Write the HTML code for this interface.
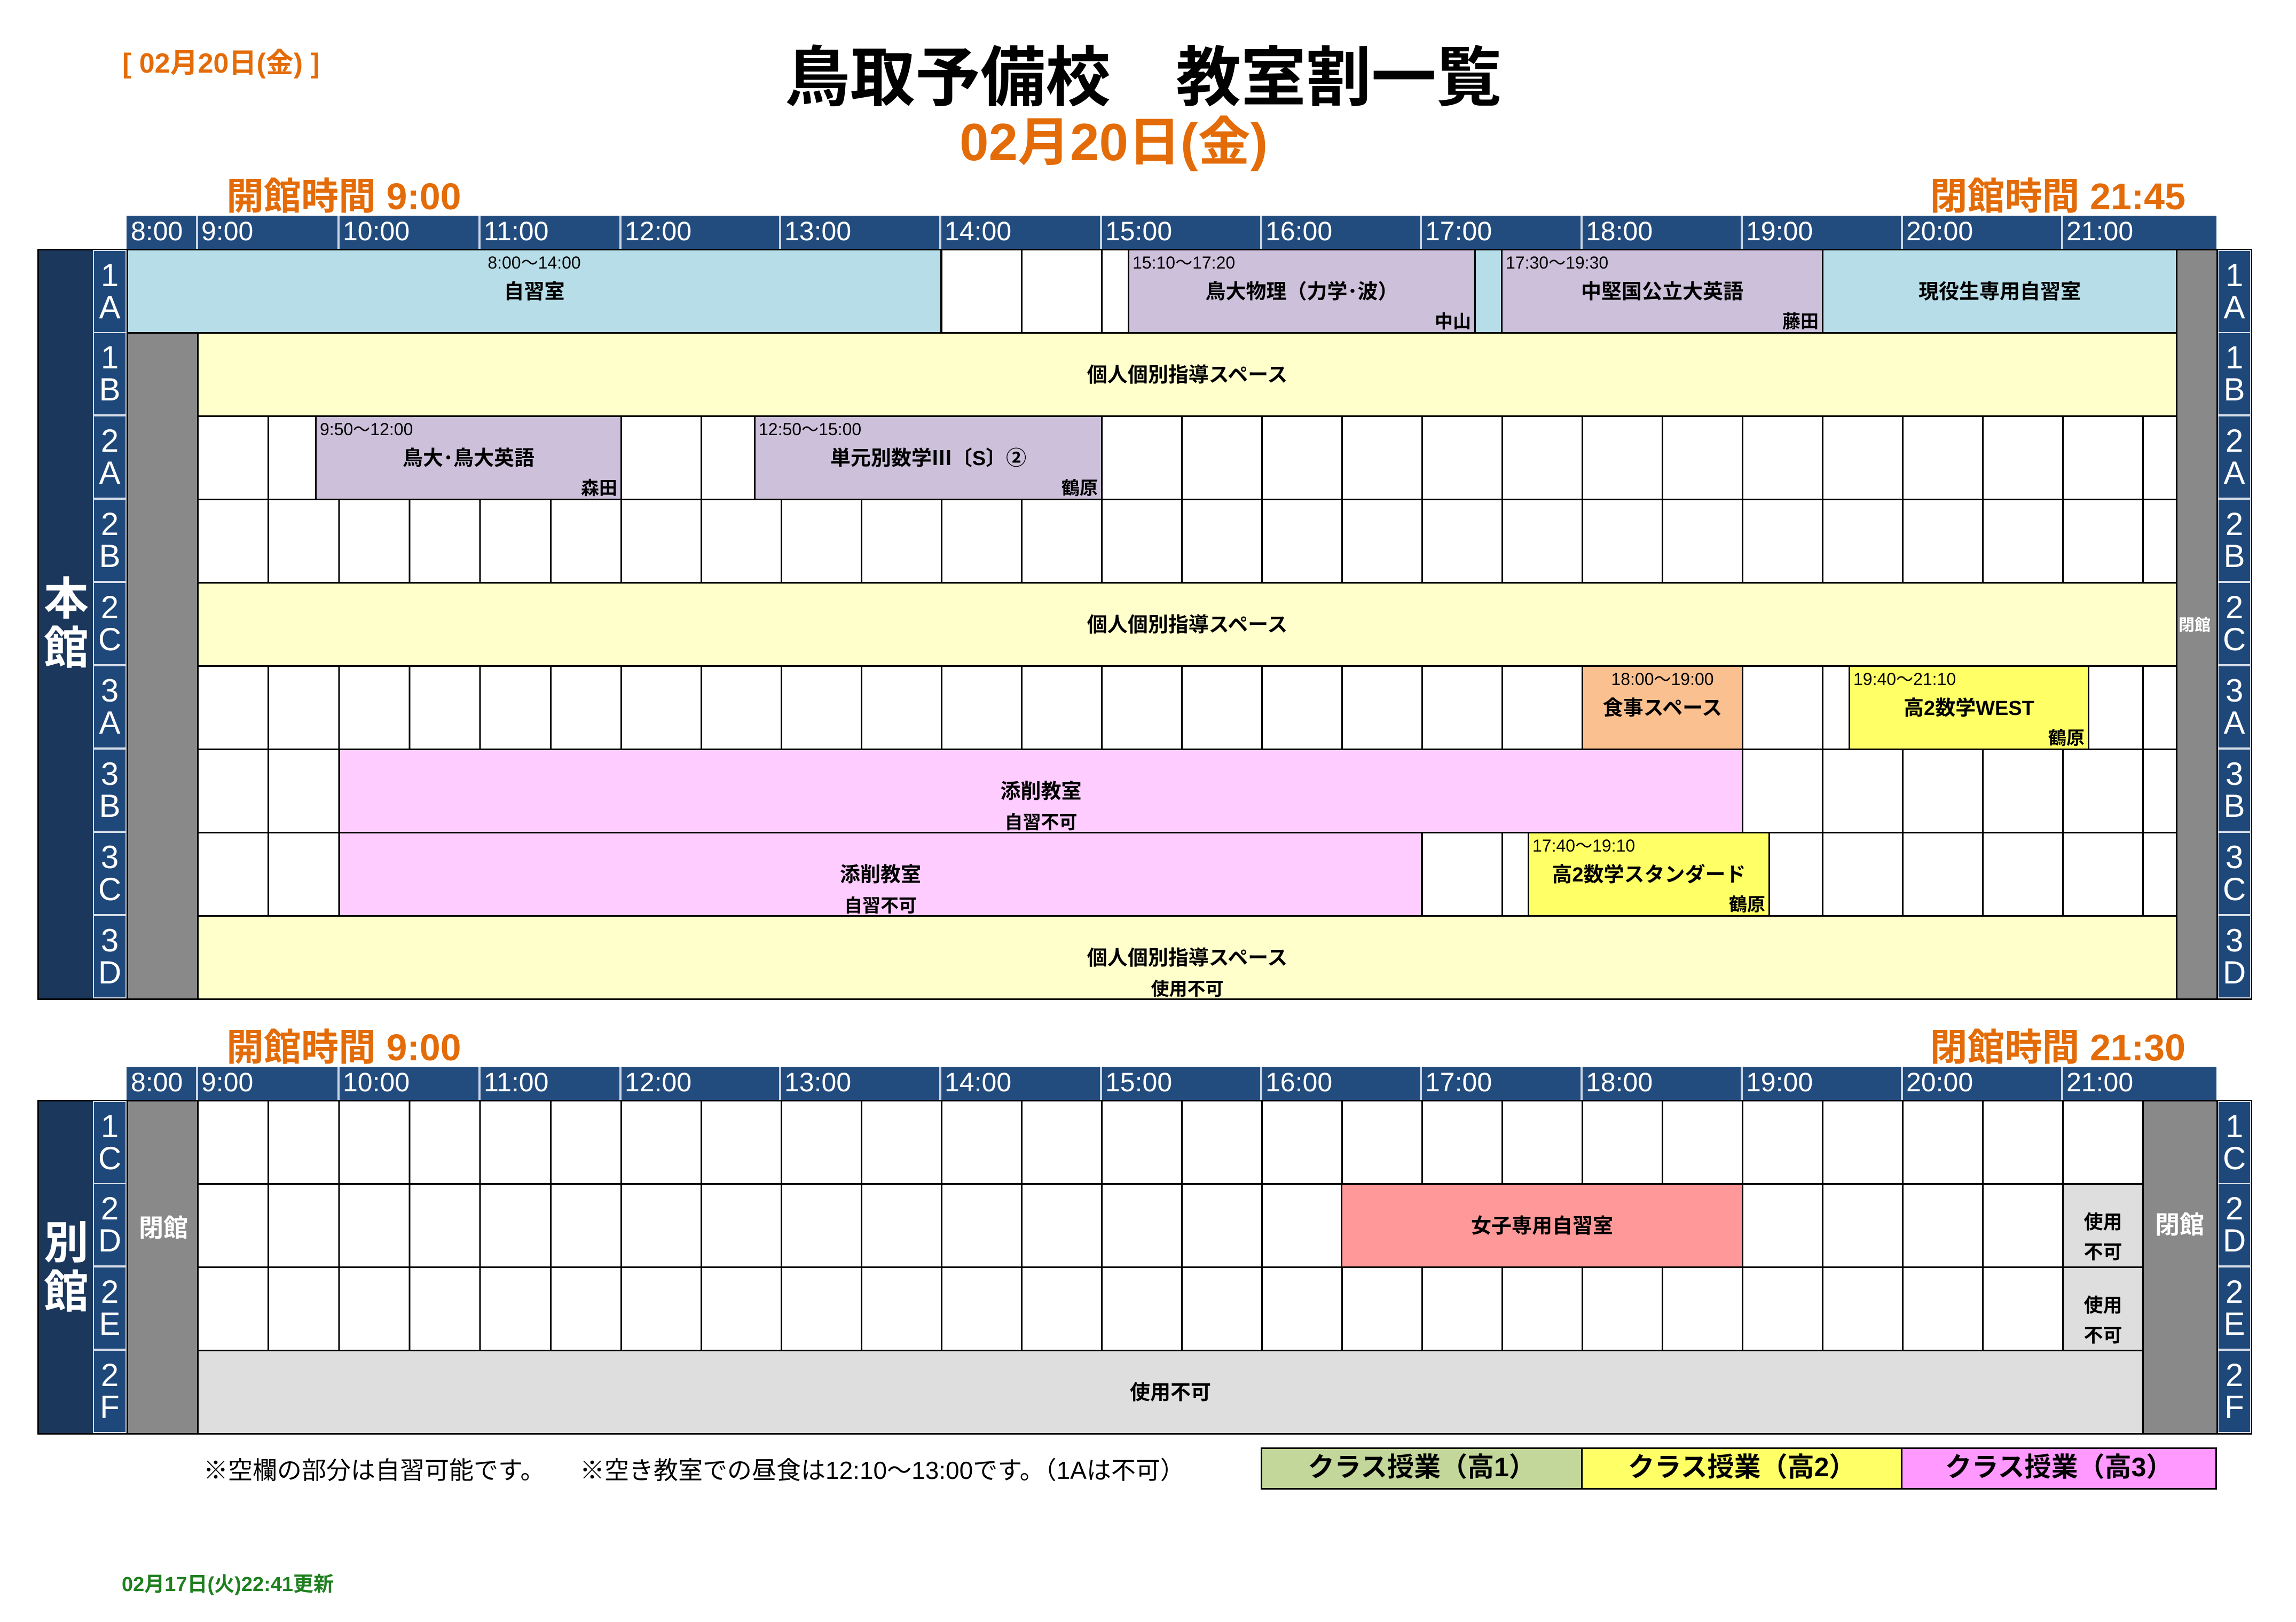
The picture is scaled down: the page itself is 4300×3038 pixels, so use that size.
<!DOCTYPE html>
<html><head><meta charset="utf-8"><style>
*{margin:0;padding:0}
body{width:4300px;height:3038px;background:#fff;position:relative;overflow:hidden;font-family:"Liberation Sans","Noto Sans CJK JP",sans-serif;color:#000}
div,span{position:absolute;box-sizing:border-box}
.or{color:#e36c09;font-weight:bold;white-space:nowrap}
.hdr{background:#234c7e;height:62px}
.hl{color:#fff;font-size:50px;white-space:nowrap}
.hs{width:4px;background:#c9d5e6;top:0;height:62px}
.navy{background:#1b375c;border:3px solid #000}
.big{color:#fff;font-weight:bold;font-size:84px;line-height:92px;width:104px;text-align:center}
.lab{background:#1f487a;border:2px solid #d6dde8;width:63px;color:#fff;font-size:60px;line-height:60px;text-align:center;display:flex;align-items:center;justify-content:center}
.gray{background:#898989;border:3px solid #000}
.gA{background-color:#fff;background-image:repeating-linear-gradient(90deg,#000 0 3px,transparent 3px 132.17px),repeating-linear-gradient(180deg,#000 0 3px,transparent 3px 156px)}
.gB{background-color:#fff;background-image:repeating-linear-gradient(90deg,#000 0 3px,transparent 3px 150px),repeating-linear-gradient(180deg,#000 0 3px,transparent 3px 156px)}
.b{border:3px solid #000}
.tm{top:-2px;left:6px;font-size:32px;white-space:nowrap}
.tmc{top:-2px;left:0;right:0;text-align:center;font-size:32px;white-space:nowrap}
.ti{left:0;right:0;top:50%;transform:translateY(-56%);text-align:center;font-weight:bold;font-size:38px;white-space:nowrap}
.te{right:6px;bottom:-2px;font-weight:bold;font-size:34px}
.sub{left:0;right:0;bottom:-4px;text-align:center;font-weight:bold;font-size:34px}
.cl{color:#fff;font-weight:bold;font-size:40px;white-space:nowrap}
</style></head><body>

<div class="or" style="left:229px;top:76px;font-size:52px">[ 02月20日(金) ]</div>
<div style="left:1470px;top:76px;font-size:122px;font-weight:bold;white-space:nowrap;line-height:140px">鳥取予備校　教室割一覧</div>
<div class="or" style="left:1797px;top:206px;font-size:98px;font-weight:bold;line-height:120px">02月20日(金)</div>

<!-- ===== 本館 ===== -->
<div class="or" style="left:424px;top:312px;font-size:70px">開館時間 9:00</div>
<div class="or" style="right:207px;top:312px;font-size:70px">閉館時間 21:45</div>

<div class="hdr" style="left:237px;top:404px;width:3914px"></div>
<div class="hs" style="left:367px;top:404px"></div>
<div class="hs" style="left:632px;top:404px"></div>
<div class="hs" style="left:896px;top:404px"></div>
<div class="hs" style="left:1160px;top:404px"></div>
<div class="hs" style="left:1459px;top:404px"></div>
<div class="hs" style="left:1759px;top:404px"></div>
<div class="hs" style="left:2060px;top:404px"></div>
<div class="hs" style="left:2360px;top:404px"></div>
<div class="hs" style="left:2659px;top:404px"></div>
<div class="hs" style="left:2960px;top:404px"></div>
<div class="hs" style="left:3260px;top:404px"></div>
<div class="hs" style="left:3560px;top:404px"></div>
<div class="hs" style="left:3860px;top:404px"></div>
<div class="hl" style="left:245px;top:404px">8:00</div>
<div class="hl" style="left:377px;top:404px">9:00</div>
<div class="hl" style="left:642px;top:404px">10:00</div>
<div class="hl" style="left:906px;top:404px">11:00</div>
<div class="hl" style="left:1170px;top:404px">12:00</div>
<div class="hl" style="left:1469px;top:404px">13:00</div>
<div class="hl" style="left:1769px;top:404px">14:00</div>
<div class="hl" style="left:2070px;top:404px">15:00</div>
<div class="hl" style="left:2370px;top:404px">16:00</div>
<div class="hl" style="left:2669px;top:404px">17:00</div>
<div class="hl" style="left:2970px;top:404px">18:00</div>
<div class="hl" style="left:3270px;top:404px">19:00</div>
<div class="hl" style="left:3570px;top:404px">20:00</div>
<div class="hl" style="left:3870px;top:404px">21:00</div>

<div class="navy" style="left:70px;top:466px;width:107px;height:1407px"></div>
<div class="big" style="left:72px;top:1076px">本<br>館</div>
<div style="left:174px;top:466px;width:63px;height:1407px;background:#1f487a;border-top:3px solid #000;border-bottom:3px solid #000"></div>
<div class="lab" style="left:174px;top:468px;height:156px">1<br>A</div>
<div class="lab" style="left:174px;top:622px;height:156px">1<br>B</div>
<div class="lab" style="left:174px;top:778px;height:156px">2<br>A</div>
<div class="lab" style="left:174px;top:934px;height:156px">2<br>B</div>
<div class="lab" style="left:174px;top:1090px;height:156px">2<br>C</div>
<div class="lab" style="left:174px;top:1246px;height:156px">3<br>A</div>
<div class="lab" style="left:174px;top:1402px;height:156px">3<br>B</div>
<div class="lab" style="left:174px;top:1558px;height:156px">3<br>C</div>
<div class="lab" style="left:174px;top:1714px;height:156px">3<br>D</div>

<div style="left:4151px;top:466px;width:67px;height:1407px;background:#1f487a;border-top:3px solid #000;border-bottom:3px solid #000;border-right:3px solid #000"></div>
<div class="lab" style="left:4153px;top:468px;height:156px">1<br>A</div>
<div class="lab" style="left:4153px;top:622px;height:156px">1<br>B</div>
<div class="lab" style="left:4153px;top:778px;height:156px">2<br>A</div>
<div class="lab" style="left:4153px;top:934px;height:156px">2<br>B</div>
<div class="lab" style="left:4153px;top:1090px;height:156px">2<br>C</div>
<div class="lab" style="left:4153px;top:1246px;height:156px">3<br>A</div>
<div class="lab" style="left:4153px;top:1402px;height:156px">3<br>B</div>
<div class="lab" style="left:4153px;top:1558px;height:156px">3<br>C</div>
<div class="lab" style="left:4153px;top:1714px;height:156px">3<br>D</div>

<!-- grid -->
<div class="gA" style="left:369px;top:466px;width:796px;height:1407px"></div>
<div class="gB" style="left:1162px;top:466px;width:2916px;height:1407px"></div>
<div class="gray" style="left:237px;top:622px;width:135px;height:1251px"></div>
<div class="gray" style="left:4075px;top:466px;width:79px;height:1407px"></div>
<div class="cl" style="left:4080px;top:1146px;font-size:30px">閉館</div>

<!-- 1A -->
<div class="b" style="left:237px;top:466px;width:1527px;height:159px;background:#b7dee8"><span class="tmc">8:00～14:00</span><span class="ti">自習室</span></div>
<div class="b" style="left:2112px;top:466px;width:652px;height:159px;background:#ccc0da"><span class="tm">15:10～17:20</span><span class="ti">鳥大物理（力学･波）</span><span class="te">中山</span></div>
<div class="b" style="left:2761px;top:466px;width:53px;height:159px;background:#b7dee8"></div>
<div class="b" style="left:2811px;top:466px;width:604px;height:159px;background:#ccc0da"><span class="tm">17:30～19:30</span><span class="ti">中堅国公立大英語</span><span class="te">藤田</span></div>
<div class="b" style="left:3412px;top:466px;width:666px;height:159px;background:#b7dee8"><span class="ti">現役生専用自習室</span></div>
<!-- 1B -->
<div class="b" style="left:369px;top:622px;width:3709px;height:159px;background:#ffffcc"><span class="ti">個人個別指導スペース</span></div>
<!-- 2A -->
<div class="b" style="left:590px;top:778px;width:575px;height:159px;background:#ccc0da"><span class="tm">9:50～12:00</span><span class="ti">鳥大･鳥大英語</span><span class="te">森田</span></div>
<div class="b" style="left:1412px;top:778px;width:653px;height:159px;background:#ccc0da"><span class="tm">12:50～15:00</span><span class="ti">単元別数学Ⅲ〔S〕②</span><span class="te">鶴原</span></div>
<!-- 2C -->
<div class="b" style="left:369px;top:1090px;width:3709px;height:159px;background:#ffffcc"><span class="ti">個人個別指導スペース</span></div>
<!-- 3A -->
<div class="b" style="left:2962px;top:1246px;width:303px;height:159px;background:#fac090"><span class="tmc">18:00～19:00</span><span class="ti">食事スペース</span></div>
<div class="b" style="left:3462px;top:1246px;width:451px;height:159px;background:#ffff66"><span class="tm">19:40～21:10</span><span class="ti">高2数学WEST</span><span class="te">鶴原</span></div>
<!-- 3B -->
<div class="b" style="left:634px;top:1402px;width:2631px;height:159px;background:#ffccff"><span class="ti">添削教室</span><span class="sub">自習不可</span></div>
<!-- 3C -->
<div class="b" style="left:634px;top:1558px;width:2030px;height:159px;background:#ffccff"><span class="ti">添削教室</span><span class="sub">自習不可</span></div>
<div class="b" style="left:2861px;top:1558px;width:454px;height:159px;background:#ffff66"><span class="tm">17:40～19:10</span><span class="ti">高2数学スタンダード</span><span class="te">鶴原</span></div>
<!-- 3D -->
<div class="b" style="left:369px;top:1714px;width:3709px;height:159px;background:#ffffcc"><span class="ti">個人個別指導スペース</span><span class="sub">使用不可</span></div>

<!-- ===== 別館 ===== -->
<div class="or" style="left:424px;top:1906px;font-size:70px">開館時間 9:00</div>
<div class="or" style="right:207px;top:1906px;font-size:70px">閉館時間 21:30</div>

<div class="hdr" style="left:237px;top:1998px;width:3914px"></div>
<div class="hs" style="left:367px;top:1998px"></div>
<div class="hs" style="left:632px;top:1998px"></div>
<div class="hs" style="left:896px;top:1998px"></div>
<div class="hs" style="left:1160px;top:1998px"></div>
<div class="hs" style="left:1459px;top:1998px"></div>
<div class="hs" style="left:1759px;top:1998px"></div>
<div class="hs" style="left:2060px;top:1998px"></div>
<div class="hs" style="left:2360px;top:1998px"></div>
<div class="hs" style="left:2659px;top:1998px"></div>
<div class="hs" style="left:2960px;top:1998px"></div>
<div class="hs" style="left:3260px;top:1998px"></div>
<div class="hs" style="left:3560px;top:1998px"></div>
<div class="hs" style="left:3860px;top:1998px"></div>
<div class="hl" style="left:245px;top:1998px">8:00</div>
<div class="hl" style="left:377px;top:1998px">9:00</div>
<div class="hl" style="left:642px;top:1998px">10:00</div>
<div class="hl" style="left:906px;top:1998px">11:00</div>
<div class="hl" style="left:1170px;top:1998px">12:00</div>
<div class="hl" style="left:1469px;top:1998px">13:00</div>
<div class="hl" style="left:1769px;top:1998px">14:00</div>
<div class="hl" style="left:2070px;top:1998px">15:00</div>
<div class="hl" style="left:2370px;top:1998px">16:00</div>
<div class="hl" style="left:2669px;top:1998px">17:00</div>
<div class="hl" style="left:2970px;top:1998px">18:00</div>
<div class="hl" style="left:3270px;top:1998px">19:00</div>
<div class="hl" style="left:3570px;top:1998px">20:00</div>
<div class="hl" style="left:3870px;top:1998px">21:00</div>

<div class="navy" style="left:70px;top:2060px;width:107px;height:627px"></div>
<div class="big" style="left:72px;top:2282px">別<br>館</div>
<div style="left:174px;top:2060px;width:63px;height:627px;background:#1f487a;border-top:3px solid #000;border-bottom:3px solid #000"></div>
<div class="lab" style="left:174px;top:2062px;height:156px">1<br>C</div>
<div class="lab" style="left:174px;top:2216px;height:156px">2<br>D</div>
<div class="lab" style="left:174px;top:2372px;height:156px">2<br>E</div>
<div class="lab" style="left:174px;top:2528px;height:156px">2<br>F</div>
<div style="left:4151px;top:2060px;width:67px;height:627px;background:#1f487a;border-top:3px solid #000;border-bottom:3px solid #000;border-right:3px solid #000"></div>
<div class="lab" style="left:4153px;top:2062px;height:156px">1<br>C</div>
<div class="lab" style="left:4153px;top:2216px;height:156px">2<br>D</div>
<div class="lab" style="left:4153px;top:2372px;height:156px">2<br>E</div>
<div class="lab" style="left:4153px;top:2528px;height:156px">2<br>F</div>

<div class="gA" style="left:369px;top:2060px;width:796px;height:627px"></div>
<div class="gB" style="left:1162px;top:2060px;width:2853px;height:627px"></div>
<div class="gray" style="left:237px;top:2060px;width:135px;height:627px"></div>
<div class="cl" style="left:260px;top:2264px;font-size:46px">閉館</div>
<div class="gray" style="left:4012px;top:2060px;width:142px;height:627px"></div>
<div class="cl" style="left:4036px;top:2258px;font-size:46px">閉館</div>

<div class="b" style="left:2511px;top:2216px;width:754px;height:159px;background:#ff9999"><span class="ti">女子専用自習室</span></div>
<div class="b" style="left:3862px;top:2216px;width:153px;height:159px;background:#dedede"><span style="left:0;right:0;top:42px;text-align:center;font-weight:bold;font-size:36px;line-height:56px">使用<br>不可</span></div>
<div class="b" style="left:3862px;top:2372px;width:153px;height:159px;background:#dedede"><span style="left:0;right:0;top:42px;text-align:center;font-weight:bold;font-size:36px;line-height:56px">使用<br>不可</span></div>
<div class="b" style="left:369px;top:2528px;width:3646px;height:159px;background:#dedede"><span class="ti">使用不可</span></div>

<!-- footnotes -->
<div style="left:381px;top:2718px;font-size:46px;white-space:nowrap">※空欄の部分は自習可能です。</div>
<div style="left:1086px;top:2718px;font-size:46px;white-space:nowrap">※空き教室での昼食は12:10～13:00です。（1Aは不可）</div>

<div class="b" style="left:2361px;top:2711px;width:603px;height:79px;background:#c4d79b"></div>
<div class="b" style="left:2961px;top:2711px;width:602px;height:79px;background:#ffff66"></div>
<div class="b" style="left:3560px;top:2711px;width:592px;height:79px;background:#ff99ff"></div>
<div style="left:2361px;top:2708px;width:603px;text-align:center;font-weight:bold;font-size:50px">クラス授業（高1）</div>
<div style="left:2961px;top:2708px;width:602px;text-align:center;font-weight:bold;font-size:50px">クラス授業（高2）</div>
<div style="left:3560px;top:2708px;width:592px;text-align:center;font-weight:bold;font-size:50px">クラス授業（高3）</div>

<div style="left:228px;top:2936px;font-size:38px;font-weight:bold;color:#1f7f1f;white-space:nowrap">02月17日(火)22:41更新</div>
</body></html>
